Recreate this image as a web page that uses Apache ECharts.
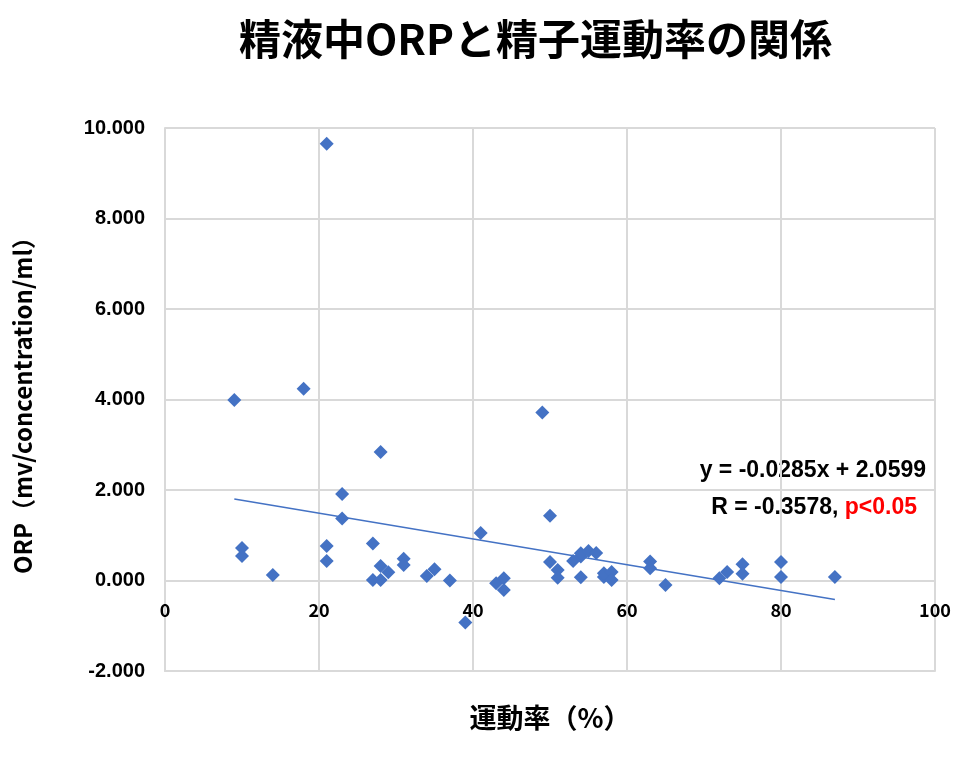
<!DOCTYPE html>
<html><head><meta charset="utf-8">
<script src="https://cdn.jsdelivr.net/npm/echarts@6/dist/echarts.min.js"></script>
<style>html,body{margin:0;padding:0;background:#fff}#c{width:975px;height:757px}</style>
</head><body><div id="c"></div>
<script>
const motility = [9,18,21,10,10,14,21,21,23,23,28,27,27,28,28,29,31,31,34,35,37,39,41,43,44,44,49,50,50,51,51,53,54,54,55,56,54,57,57,58,58,63,63,65,72,73,75,75,80,80,87];
const orp = [3.99,4.24,9.65,0.72,0.54,0.12,0.76,0.43,1.91,1.37,2.84,0.82,0.01,0.32,0.01,0.18,0.48,0.34,0.10,0.25,0.00,-0.93,1.05,-0.06,0.05,-0.21,3.71,1.43,0.41,0.23,0.06,0.43,0.53,0.60,0.65,0.61,0.07,0.08,0.16,0.19,0.01,0.42,0.27,-0.10,0.05,0.19,0.36,0.15,0.41,0.08,0.08];
const xTicks = [0,20,40,60,80,100];
const yTicks = [-2,0,2,4,6,8,10];
const slope = -0.0285, intercept = 2.0599;
const eqText = 'y = -0.0285x + 2.0599';
const rText = 'R = -0.3578, ';
const pText = 'p<0.05';

const pts = motility.map((x,i)=>[x,orp[i]]);
const xmin = Math.min(...motility), xmax = Math.max(...motility);
const trend = [[xmin, slope*xmin+intercept],[xmax, slope*xmax+intercept]];

const chart = echarts.init(document.getElementById('c'));
chart.setOption({
  animation:false,
  title:{text:'精液中ORPと精子運動率の関係',left:234,top:13,
    textStyle:{fontFamily:'Noto Sans CJK JP',fontWeight:'bold',fontSize:42,color:'#000'}},
  grid:{left:165,right:40,top:128,bottom:86,containLabel:false,outerBoundsMode:'none'},
  xAxis:{type:'value',min:xTicks[0],max:xTicks[xTicks.length-1],interval:20,
    axisLine:{onZero:false,lineStyle:{color:'#d9d9d9',width:2}},
    axisTick:{show:false},
    splitLine:{lineStyle:{color:'#d9d9d9',width:2}},
    axisLabel:{margin:-70,color:'#000',fontSize:18,fontFamily:'Noto Sans CJK JP',fontWeight:'bold'},
    name:'運動率（%）',nameLocation:'middle',nameGap:33,
    nameTextStyle:{fontFamily:'Noto Sans CJK JP',fontWeight:'bold',fontSize:27,color:'#000'}},
  yAxis:{type:'value',min:yTicks[0],max:yTicks[yTicks.length-1],interval:2,
    axisLine:{show:true,lineStyle:{color:'#d9d9d9',width:2}},
    axisTick:{show:false},
    splitLine:{lineStyle:{color:'#d9d9d9',width:2}},
    axisLabel:{margin:20,color:'#000',fontSize:20,fontFamily:'Liberation Sans',fontWeight:'bold',
      formatter:v=>v.toFixed(3)},
    name:'ORP（mv/concentration/ml）',nameLocation:'middle',nameGap:130,nameRotate:90,
    nameTextStyle:{fontFamily:'Noto Sans CJK JP',fontWeight:'bold',fontSize:24,color:'#000'}},
  series:[
    {type:'scatter',data:pts,symbol:'diamond',symbolSize:14,itemStyle:{color:'#4472C4',opacity:1},z:3},
    {type:'line',data:trend,showSymbol:false,symbol:'none',lineStyle:{color:'#4472C4',width:1.5},z:2}
  ],
  graphic:[
    {type:'text',right:49,top:459,style:{text:eqText,font:'bold 23px "Liberation Sans"',fill:'#000'}},
    {type:'text',right:58,top:496,style:{
      text:'{a|'+rText+'}{b|'+pText+'}',
      rich:{a:{fontFamily:'Liberation Sans',fontWeight:'bold',fontSize:23,fill:'#000'},
            b:{fontFamily:'Liberation Sans',fontWeight:'bold',fontSize:23,fill:'#ff0000'}}}}
  ]
});
</script></body></html>
